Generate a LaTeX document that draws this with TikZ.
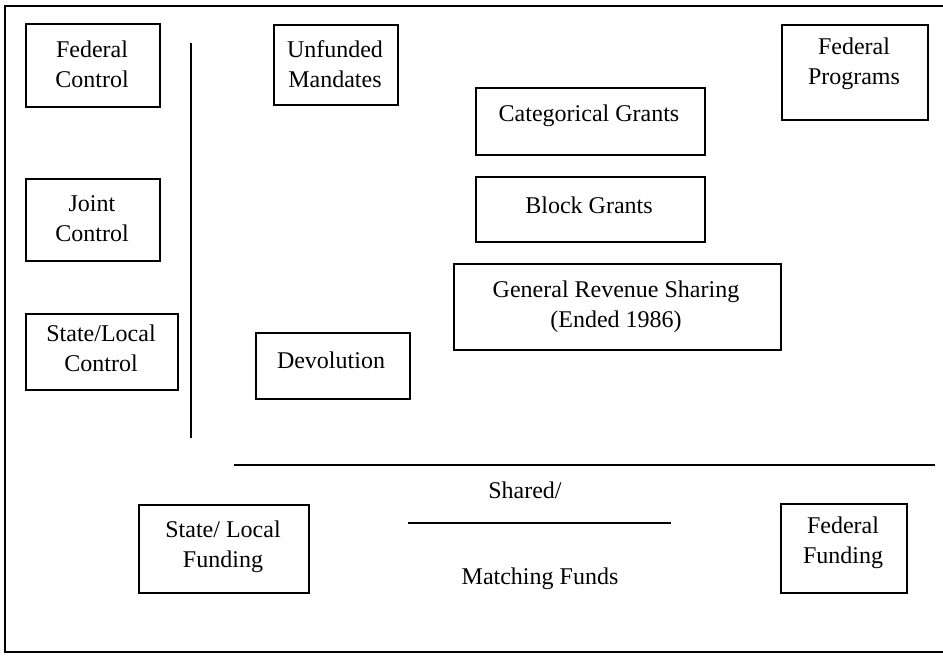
\documentclass[tikz,border=0pt]{standalone}
\usepackage{fontspec}
\setmainfont{Liberation Serif}
\begin{document}
\begin{tikzpicture}[x=1pt,y=-1pt,
  boxst/.style={draw, line width=2pt, inner sep=0pt, anchor=north west},
  txt/.style={font=\fontsize{24}{30}\selectfont, align=center, inner sep=0pt},
  rule/.style={line width=2pt}]
\useasboundingbox (0,0) rectangle (943,658);
% frame
\coordinate (f1) at (943,6);
\coordinate (f2) at (5,6);
\coordinate (f3) at (5,652);
\coordinate (f4) at (943,652);
\draw[rule] (f1) -- (f2) -- (f3) -- (f4);
% boxes
\node[boxst, minimum width=134, minimum height=83] (fc) at (25,23) {};
\node[boxst, minimum width=134, minimum height=82] (jc) at (25,178) {};
\node[boxst, minimum width=152, minimum height=76] (slc) at (25,313) {};
\node[boxst, minimum width=124, minimum height=80] (um) at (273,24) {};
\node[boxst, minimum width=146, minimum height=95] (fp) at (781,24) {};
\node[boxst, minimum width=229, minimum height=67] (cg) at (475,87) {};
\node[boxst, minimum width=229, minimum height=65] (bg) at (475,176) {};
\node[boxst, minimum width=327, minimum height=86] (grs) at (453,263) {};
\node[boxst, minimum width=154, minimum height=66] (dev) at (255,332) {};
\node[boxst, minimum width=170, minimum height=88] (slf) at (138,504) {};
\node[boxst, minimum width=126, minimum height=89] (ff) at (780,503) {};
% texts
\node[txt] (fct) at (92,64) {Federal\\Control};
\node[txt] (jct) at (92,219) {Joint\\Control};
\node[txt] (slct) at (101,348) {State/Local\\Control};
\node[txt] (umt) at (335,64) {Unfunded\\Mandates};
\node[txt] (fpt) at (854,64) {Federal\\Programs};
\node[txt] (cgt) at (589,116) {Categorical Grants};
\node[txt] (bgt) at (589,205) {Block Grants};
\node[txt] (grst) at (616,307) {General Revenue Sharing\\(Ended 1986)};
\node[txt] (devt) at (331,360) {Devolution};
\node[txt] (slft) at (223,547) {State/ Local\\Funding};
\node[txt] (fft) at (843,543) {Federal\\Funding};
\node[txt] (sh) at (525,490) {Shared/};
\node[txt] (mf) at (540,579) {Matching Funds};
% rules
\coordinate (v1) at (191,43);
\coordinate (v2) at (191,438);
\draw[rule] (v1) -- (v2);
\coordinate (h1) at (234,465);
\coordinate (h2) at (935,465);
\draw[rule] (h1) -- (h2);
\coordinate (s1) at (408,523);
\coordinate (s2) at (671,523);
\draw[rule] (s1) -- (s2);
\end{tikzpicture}
\end{document}
